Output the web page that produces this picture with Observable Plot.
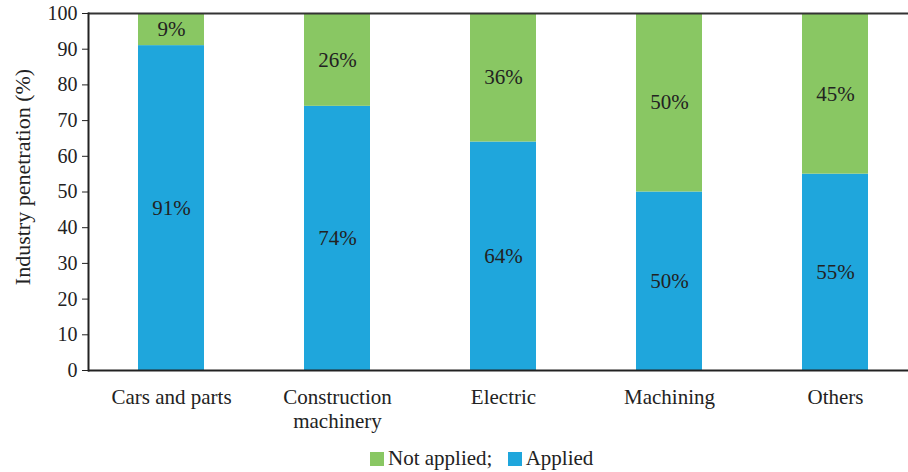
<!DOCTYPE html>
<html>
<head>
<meta charset="utf-8">
<script src="https://cdn.jsdelivr.net/npm/d3@7"></script>
<script src="https://cdn.jsdelivr.net/npm/@observablehq/plot@0.6"></script>
<style>
  body { margin: 0; background: #fff; font-family: 'Liberation Serif', 'Times New Roman', 'DejaVu Serif', serif; }
  #wrap { position: relative; width: 908px; height: 472px; }
  #legend { position: absolute; left: 370px; top: 446px; display: flex; align-items: center; font-size: 21px; color: #222; white-space: pre; }
  .sw { width: 14px; height: 14px; display: inline-block; margin-right: 4px; }
  svg text { font-family: 'Liberation Serif', 'Times New Roman', 'DejaVu Serif', serif !important; }
</style>
</head>
<body>
<div id="wrap"><div id="chart"></div><div id="legend"></div></div>
<script>
const categories = ["Cars and parts", "Construction\nmachinery", "Electric", "Machining", "Others"];
const applied = [91, 74, 64, 50, 55];
const notApplied = [9, 26, 36, 50, 45];
const seriesNames = ["Applied", "Not applied"];
const seriesColors = ["#1fa6dc", "#89c763"];
const yTicks = [0, 10, 20, 30, 40, 50, 60, 70, 80, 90, 100];
const yLabel = "Industry penetration (%)";

const data = [];
categories.forEach((c, i) => data.push({cat: c, series: "Applied", value: applied[i]}));
categories.forEach((c, i) => data.push({cat: c, series: "Not applied", value: notApplied[i]}));

const font = "'Liberation Serif', 'Times New Roman', 'DejaVu Serif', serif";

const chart = Plot.plot({
  width: 908,
  height: 440,
  marginTop: 13,
  marginLeft: 88,
  marginRight: 0,
  marginBottom: 70,
  style: {fontFamily: font, fontSize: "21px", color: "#222", background: "#fff"},
  x: {domain: categories, range: [88, 918], paddingInner: 0.6, paddingOuter: 0.3},
  y: {domain: [0, 100]},
  color: {domain: seriesNames, range: seriesColors},
  marks: [
    Plot.barY(data, Plot.stackY({x: "cat", y: "value", z: "series", fill: "series"})),
    Plot.text(data, Plot.stackY({x: "cat", y: "value", z: "series", text: d => d.value + "%", fill: "#222", fontSize: 21})),
    Plot.ruleY([0], {stroke: "#222", strokeWidth: 2}),
    Plot.ruleY([100], {stroke: "#333", strokeWidth: 2}),
    Plot.frame({anchor: "left", stroke: "#222", strokeWidth: 2}),
    Plot.axisY({ticks: yTicks, tickSize: 6, tickPadding: 5, fontSize: 20, label: null, stroke: "#222"}),
    Plot.text([yLabel], {text: d => d, frameAnchor: "left", textAnchor: "middle", lineAnchor: "middle", rotate: -90, dx: -66, dy: -15, fontSize: 22, fill: "#222"}),
    Plot.axisX({tickSize: 0, tickPadding: 16, fontSize: 21, lineHeight: 1.15, label: null})
  ]
});
document.getElementById("chart").appendChild(chart);

const legend = document.getElementById("legend");
const legendOrder = [["Not applied; ", seriesColors[1]], ["Applied", seriesColors[0]]];
legendOrder.forEach(([name, col], i) => {
  const sw = document.createElement("span");
  sw.className = "sw";
  sw.style.background = col;
  if (i > 0) sw.style.marginLeft = "10px";
  legend.appendChild(sw);
  const t = document.createElement("span");
  t.textContent = name;
  legend.appendChild(t);
});
</script>
</body>
</html>
